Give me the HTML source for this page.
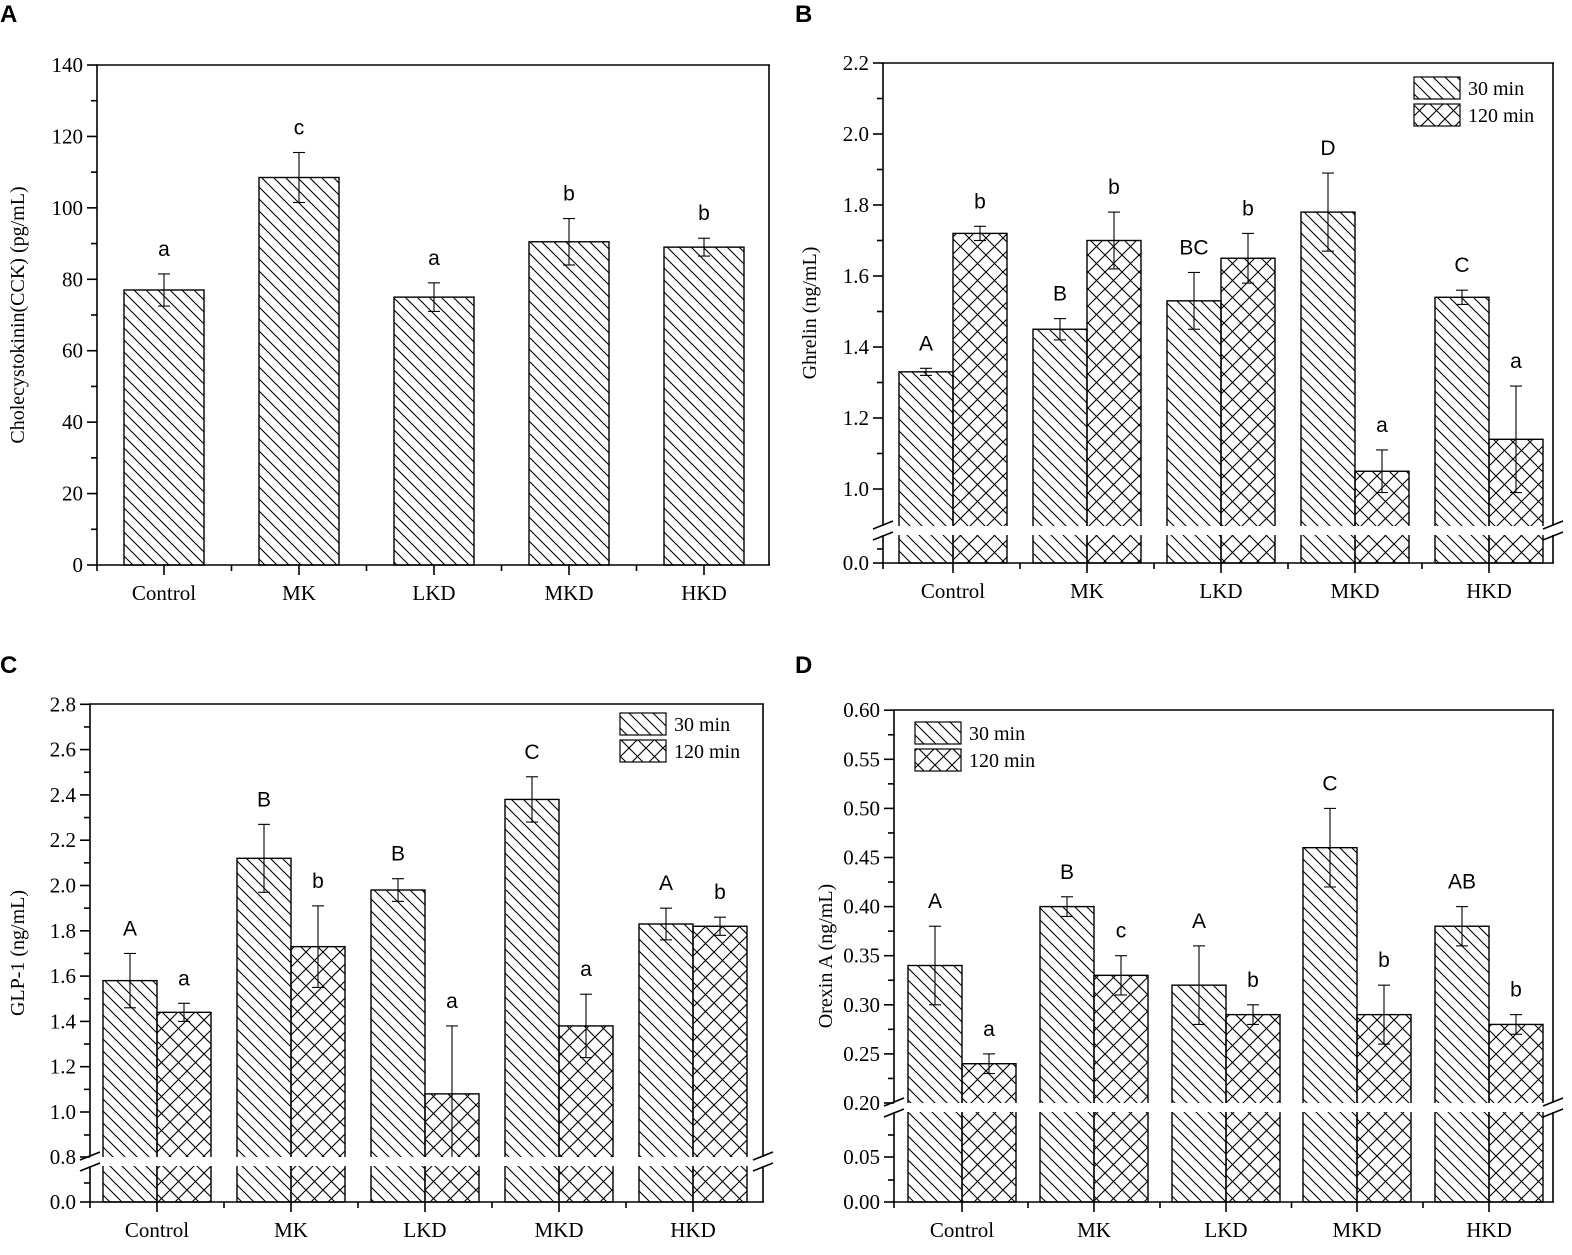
<!DOCTYPE html>
<html><head><meta charset="utf-8"><style>
html,body{margin:0;padding:0;background:#fff;}
svg{display:block;}
text{font-family:"Liberation Serif",serif;fill:#000;}
.s{font-family:"Liberation Sans",sans-serif;}
</style></head><body>
<svg id="c" width="1572" height="1255" xmlns="http://www.w3.org/2000/svg">
<defs>
<pattern id="h1" patternUnits="userSpaceOnUse" width="12" height="12">
<path d="M-3,-3 L15,15 M-3,9 L3,15 M9,-3 L15,3" stroke="#000" stroke-width="1.1"/>
</pattern>
<pattern id="h2" patternUnits="userSpaceOnUse" width="17" height="17">
<path d="M-3,-3 L20,20 M-3,14 L3,20 M14,-3 L20,3 M20,-3 L-3,20 M-3,3 L3,-3 M14,20 L20,14" stroke="#000" stroke-width="1.1"/>
</pattern>
</defs>
</svg>
<script>
const S=document.getElementById('c');let out='';
function L(x1,y1,x2,y2,w){out+=`<line x1="${x1}" y1="${y1}" x2="${x2}" y2="${y2}" stroke="#000" stroke-width="${w||1.6}"/>`;}
function T(x,y,t,a,sz,cls){out+=`<text x="${x}" y="${y}" text-anchor="${a||'middle'}" font-size="${sz||21}" ${cls?'class="'+cls+'"':''}>${t}</text>`;}
function R(x,y,w,h,f,sw){out+=`<rect x="${x}" y="${y}" width="${w}" height="${h}" fill="${f}" stroke="${sw?'#000':'none'}" stroke-width="${sw||0}"/>`;}
function panel(p){
 const {x0,x1,top,y0,cats,centers,bw,yf,ticks,minors,gap,series,ylabel,ylx,legend}=p;
 series.forEach((s,si)=>{
  s.v.forEach((v,i)=>{
   const cx=centers[i];const bx=series.length==1?cx-bw/2:(si==0?cx-bw:cx);
   const yt=yf(v);
   R(bx,yt,bw,y0-yt,'url(#'+s.pat+')',1.4);
  });
 });
 if(gap){R(x0-2,gap[0],x1-x0+4,gap[1]-gap[0],'#fff');}
 series.forEach((s,si)=>{
  s.v.forEach((v,i)=>{
   const cx=centers[i];const ex=series.length==1?cx:(si==0?cx-bw/2:cx+bw/2);
   const a=yf(v+s.e[i]);let b=yf(v-s.e[i]);
   let capB=true;
   if(gap&&b>gap[0]){b=gap[0];capB=false;}
   L(ex,a,ex,b,1.1);L(ex-6,a,ex+6,a,1.1);if(capB)L(ex-6,b,ex+6,b,1.1);
   T(ex,a-18,s.l[i],'middle',21,'s');
  });
 });
 if(gap){
  L(x0,top,x0,gap[0]);L(x0,gap[1],x0,y0);L(x1,top,x1,gap[0]);L(x1,gap[1],x1,y0);
  [x0,x1].forEach(x=>{L(x-10,gap[0]+3,x+10,gap[0]-5);L(x-10,gap[1]+5,x+10,gap[1]-3);});
 } else {L(x0,top,x0,y0);L(x1,top,x1,y0);}
 L(x0-1,top,x1+1,top);L(x0-1,y0,x1+1,y0);
 ticks.forEach(t=>{L(x0-10,t[0],x0,t[0]);T(x0-14,t[0]+7,t[1],'end',21);});
 minors.forEach(y=>L(x0-6,y,x0,y));
 centers.forEach((c,i)=>{L(c,y0,c,y0+10);T(c,y0+35,cats[i],'middle',21);
  if(i<centers.length-1)L((c+centers[i+1])/2,y0,(c+centers[i+1])/2,y0+6);});
 L(x0,y0,x0,y0+6);
 out+=`<text transform="translate(${ylx},${(top+y0)/2}) rotate(-90)" text-anchor="middle" font-size="20">${ylabel}</text>`;
 if(legend){const [lx,ly]=legend;
  R(lx,ly,46,22,'url(#h1)',1.2);R(lx,ly+27,46,22,'url(#h2)',1.2);
  T(lx+54,ly+18,'30 min','start',20);T(lx+54,ly+45,'120 min','start',20);}
}
const cats=['Control','MK','LKD','MKD','HKD'];
panel({x0:97,x1:769,top:65,y0:565,cats,centers:[164,299,434,569,704],bw:80,
 yf:v=>565-v*500/140,
 ticks:[0,20,40,60,80,100,120,140].map(v=>[565-v*500/140,v]),
 minors:[10,30,50,70,90,110,130].map(v=>565-v*500/140),
 series:[{v:[77,108.5,75,90.5,89],e:[4.5,7,4,6.5,2.5],l:['a','c','a','b','b'],pat:'h1'}],
 ylabel:'Cholecystokinin(CCK) (pg/mL)',ylx:24});
const fB=v=>v>=0.9?489-(v-1)*355:563-v*35;
panel({x0:883,x1:1553,top:63,y0:563,cats,centers:[953,1087,1221,1355,1489],bw:54,
 yf:fB,gap:[526,535],
 ticks:[[563,'0.0'],...[1.0,1.2,1.4,1.6,1.8,2.0,2.2].map(v=>[fB(v),v.toFixed(1)])],
 minors:[549,...[1.1,1.3,1.5,1.7,1.9,2.1].map(fB)],
 series:[{v:[1.33,1.45,1.53,1.78,1.54],e:[.01,.03,.08,.11,.02],l:['A','B','BC','D','C'],pat:'h1'},
 {v:[1.72,1.70,1.65,1.05,1.14],e:[.02,.08,.07,.06,.15],l:['b','b','b','a','a'],pat:'h2'}],
 ylabel:'Ghrelin (ng/mL)',ylx:816,legend:[1414,77]});
const fC=v=>v>=0.9?1112-(v-1)*226.5:1202-v*45;
panel({x0:90,x1:763,top:704,y0:1202,cats,centers:[157,291,425,559,693],bw:54,
 yf:fC,gap:[1157,1166],
 ticks:[[1202,'0.0'],[1157,'0.8'],...[1.0,1.2,1.4,1.6,1.8,2.0,2.2,2.4,2.6,2.8].map(v=>[fC(v),v.toFixed(1)])],
 minors:[1183,1135,...[1.1,1.3,1.5,1.7,1.9,2.1,2.3,2.5,2.7].map(fC)],
 series:[{v:[1.58,2.12,1.98,2.38,1.83],e:[.12,.15,.05,.10,.07],l:['A','B','B','C','A'],pat:'h1'},
 {v:[1.44,1.73,1.08,1.38,1.82],e:[.04,.18,.30,.14,.04],l:['a','b','a','a','b'],pat:'h2'}],
 ylabel:'GLP-1 (ng/mL)',ylx:24,legend:[620,713]});
const fD=v=>v>=0.15?1103-(v-0.2)*982:1202-v*900;
panel({x0:894,x1:1553,top:710,y0:1202,cats,centers:[962,1094,1226,1357,1489],bw:54,
 yf:fD,gap:[1103,1112],
 ticks:[[1202,'0.00'],[1157,'0.05'],...[.2,.25,.3,.35,.4,.45,.5,.55,.6].map(v=>[fD(v),v.toFixed(2)])],
 minors:[1180,1135,...[.225,.275,.325,.375,.425,.475,.525,.575].map(fD)],
 series:[{v:[.34,.40,.32,.46,.38],e:[.04,.01,.04,.04,.02],l:['A','B','A','C','AB'],pat:'h1'},
 {v:[.24,.33,.29,.29,.28],e:[.01,.02,.01,.03,.01],l:['a','c','b','b','b'],pat:'h2'}],
 ylabel:'Orexin A (ng/mL)',ylx:832,legend:[915,722]});
out+=`<text x="0" y="22" font-size="24" font-weight="bold" class="s">A</text>`;
out+=`<text x="795" y="22" font-size="24" font-weight="bold" class="s">B</text>`;
out+=`<text x="0" y="673" font-size="24" font-weight="bold" class="s">C</text>`;
out+=`<text x="795" y="673" font-size="24" font-weight="bold" class="s">D</text>`;
S.insertAdjacentHTML('beforeend',out);
</script>
</body></html>
